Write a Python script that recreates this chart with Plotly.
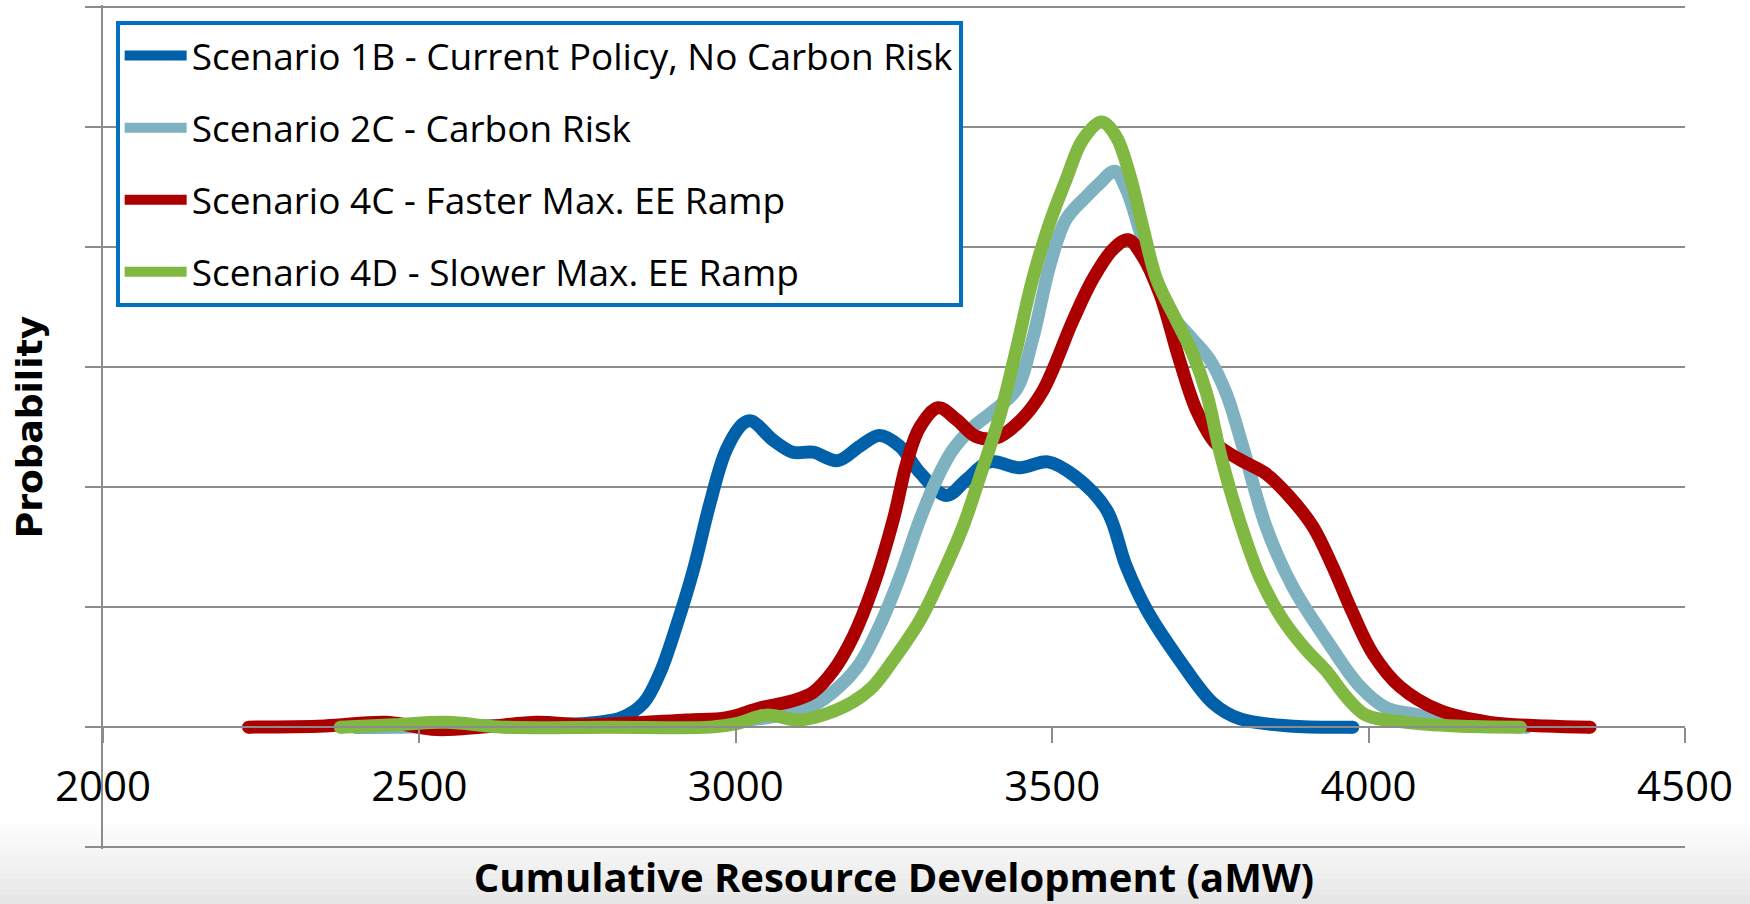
import plotly.graph_objects as go

# ---------------- data ----------------
series_names = [
    "Scenario 1B - Current Policy, No Carbon Risk",
    "Scenario 2C - Carbon Risk",
    "Scenario 4C - Faster Max. EE Ramp",
    "Scenario 4D - Slower Max. EE Ramp",
]
series_colors = ["#0061AA", "#7FB2C1", "#AC0000", "#80B842"]

x_1b = [2400, 2700, 2780, 2820, 2854, 2880, 2906, 2933, 2959, 2985, 3012, 3025, 3059, 3090,
        3122, 3161, 3196, 3227, 3259, 3291, 3333, 3364, 3401, 3449, 3493, 3536, 3586, 3617,
        3649, 3701, 3754, 3796, 3875, 3975]
y_1b = [0.0, 0.02, 0.04, 0.08, 0.20, 0.45, 0.84, 1.31, 1.86, 2.31, 2.53, 2.55, 2.39, 2.29,
        2.29, 2.22, 2.34, 2.43, 2.34, 2.12, 1.93, 2.06, 2.21, 2.16, 2.21, 2.09, 1.81, 1.34,
        0.98, 0.56, 0.20, 0.07, 0.01, 0.0]

x_2c = [2400, 2800, 2950, 3050, 3122, 3164, 3196, 3227, 3259, 3291, 3317, 3343, 3375, 3406,
        3443, 3469, 3496, 3522, 3554, 3575, 3599, 3617, 3638, 3659, 3691, 3722, 3749, 3775,
        3801, 3838, 3880, 3933, 3986, 4028, 4070, 4150, 4250]
y_2c = [0.0, 0.02, 0.04, 0.08, 0.18, 0.34, 0.53, 0.84, 1.25, 1.73, 2.06, 2.31, 2.50, 2.63,
        2.81, 3.23, 3.84, 4.23, 4.42, 4.53, 4.63, 4.48, 4.14, 3.75, 3.42, 3.23, 3.06, 2.78,
        2.34, 1.67, 1.17, 0.73, 0.34, 0.16, 0.11, 0.03, 0.0]

x_4c = [2230, 2350, 2448, 2527, 2600, 2685, 2764, 2922, 2986, 3038, 3090, 3122, 3154, 3185,
        3217, 3249, 3270, 3291, 3320, 3349, 3380, 3412, 3449, 3485, 3533, 3564, 3596, 3620,
        3643, 3670, 3701, 3728, 3759, 3796, 3838, 3875, 3912, 3943, 3975, 4007, 4049, 4112,
        4191, 4280, 4350]
y_4c = [0.0, 0.01, 0.04, -0.02, 0.0, 0.04, 0.02, 0.06, 0.08, 0.16, 0.22, 0.29, 0.47, 0.75,
        1.17, 1.73, 2.20, 2.50, 2.66, 2.56, 2.42, 2.41, 2.55, 2.80, 3.39, 3.73, 3.98, 4.06,
        3.92, 3.61, 3.06, 2.64, 2.36, 2.23, 2.11, 1.92, 1.67, 1.34, 0.95, 0.61, 0.34, 0.14,
        0.04, 0.01, 0.0]

x_4d = [2375, 2460, 2543, 2632, 2800, 2960, 3001, 3048, 3101, 3143, 3185, 3217, 3249, 3291,
        3327, 3359, 3386, 3417, 3443, 3469, 3496, 3522, 3548, 3578, 3601, 3622, 3643, 3665,
        3696, 3722, 3744, 3767, 3796, 3828, 3865, 3902, 3933, 3965, 3996, 4059, 4138, 4240]
y_4d = [0.0, 0.02, 0.04, 0.0, 0.0, 0.0, 0.03, 0.10, 0.06, 0.11, 0.21, 0.34, 0.56, 0.89,
        1.28, 1.67, 2.09, 2.59, 3.14, 3.73, 4.20, 4.56, 4.89, 5.04, 4.92, 4.61, 4.17, 3.73,
        3.39, 3.11, 2.78, 2.25, 1.72, 1.25, 0.89, 0.64, 0.47, 0.25, 0.10, 0.04, 0.01, 0.0]

x_ticks = [2000, 2500, 3000, 3500, 4000, 4500]
x_title = "Cumulative Resource Development (aMW)"
y_title = "Probability"

series_x = [x_1b, x_2c, x_4c, x_4d]
series_y = [y_1b, y_2c, y_4c, y_4d]

# ---------------- figure ----------------
LW = 13
GRID = "#8c8c8c"
Y_LO, Y_HI = -1.015, 6.015   # slightly padded so the edge gridlines are drawn
fig = go.Figure()

for i, (name, color, xs, ys) in enumerate(zip(series_names, series_colors, series_x, series_y)):
    fig.add_trace(go.Scatter(
        x=xs, y=ys, mode="lines", name=name,
        line=dict(color=color, width=LW, shape="spline", smoothing=1.0),
        legendgroup=f"g{i}", hoverinfo="x+y+name",
    ))
    # round end caps
    fig.add_trace(go.Scatter(
        x=[xs[0], xs[-1]], y=[ys[0], ys[-1]], mode="markers", showlegend=False,
        marker=dict(color=color, size=LW, line=dict(width=0)),
        legendgroup=f"g{i}", hoverinfo="skip",
    ))

# plot area in pixels: top 5, bottom 848.6 (=> 120 px per unit)
T, B = 5, 904 - 848.6
PH = 904 - T - B
PW = 1750 - 103 - 65

def py(ypx):
    return (904 - B - ypx) / PH

# light-grey gradient band at the bottom of the page
shapes = []
n_bands = 16
y_top, y_bot = 818, 904
for k in range(n_bands):
    p0 = y_top + (y_bot - y_top) * k / n_bands
    p1 = y_top + (y_bot - y_top) * (k + 1) / n_bands
    g = int(round(255 - (255 - 229) * (k + 0.5) / n_bands))
    shapes.append(dict(
        type="rect", xref="paper", yref="paper", layer="below",
        x0=-0.07, x1=1.05, y0=py(p1), y1=py(p0),
        fillcolor=f"rgb({g},{g},{g})", line=dict(width=0),
    ))

fig.update_layout(
    width=1750, height=904,
    margin=dict(l=103, r=65, t=T, b=B, autoexpand=False),
    paper_bgcolor="white", plot_bgcolor="rgba(0,0,0,0)",
    shapes=shapes,
    showlegend=True,
    legend=dict(
        x=0.008, y=py(21), xanchor="left", yanchor="top",
        bgcolor="white", bordercolor="#0070C0", borderwidth=4,
        font=dict(family="Open Sans", size=37, color="black"),
        tracegroupgap=21, itemwidth=62,
    ),
    xaxis=dict(
        range=[2000, 4500], tickvals=x_ticks, ticktext=[str(v) for v in x_ticks],
        anchor="free", position=(0 - Y_LO) / (Y_HI - Y_LO), automargin=False,
        showline=True, linecolor=GRID, linewidth=1.5,
        ticks="outside", ticklen=15, tickcolor=GRID, tickwidth=1.5,
        showgrid=False, zeroline=False,
        tickfont=dict(family="Open Sans", size=42, color="black"),
        ticklabelstandoff=8,
        title=dict(text=x_title, standoff=58,
                   font=dict(family="Open Sans", size=40, color="black", weight="bold")),
    ),
    yaxis=dict(
        range=[Y_LO, Y_HI], tick0=0, dtick=1, automargin=False,
        showgrid=True, gridcolor=GRID, gridwidth=1.5,
        showline=True, linecolor=GRID, linewidth=1.5,
        ticks="outside", ticklen=16, tickcolor=GRID, tickwidth=1.5,
        showticklabels=False, zeroline=False,
        title=dict(text=y_title + "\u00a0\u00a0\u00a0", standoff=32,
                   font=dict(family="DejaVu Sans", size=36, color="black", weight="bold")),
    ),
)

fig.write_html("out.html")
